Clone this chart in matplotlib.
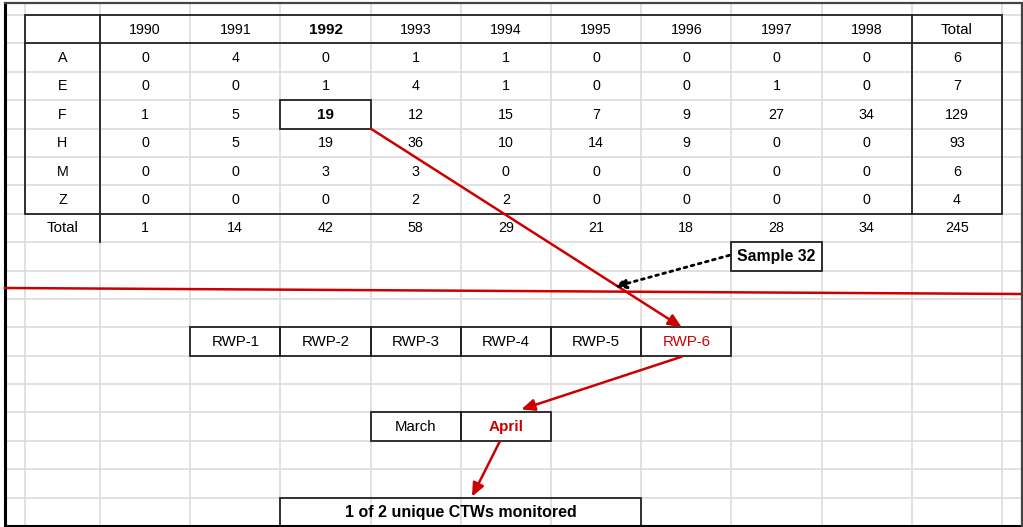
import numpy as np
import matplotlib.pyplot as plt
from matplotlib.patches import Rectangle

plt.rcParams['font.family'] = ['Liberation Sans', 'DejaVu Sans']

# table contents
years = ['1990', '1991', '1992', '1993', '1994', '1995', '1996', '1997', '1998']
groups = ['A', 'E', 'F', 'H', 'M', 'Z']
counts = np.array([
    [0, 4, 0, 1, 1, 0, 0, 0, 0],
    [0, 0, 1, 4, 1, 0, 0, 1, 0],
    [1, 5, 19, 12, 15, 7, 9, 27, 34],
    [0, 5, 19, 36, 10, 14, 9, 0, 0],
    [0, 0, 3, 3, 0, 0, 0, 0, 0],
    [0, 0, 0, 2, 2, 0, 0, 0, 0],
])
rwp_labels = ['RWP-1', 'RWP-2', 'RWP-3', 'RWP-4', 'RWP-5', 'RWP-6']
months = ['March', 'April']
sample_label = 'Sample 32'
final_label = '1 of 2 unique CTWs monitored'

RED = '#cc0000'
GRID = '#dcdcdc'
INK = '#222222'

# spreadsheet grid (pixels)
x_edges = np.r_[5, 25, np.linspace(100, 1002, 11), 1022]
y_edges = np.r_[3, np.linspace(15, 526, 19)]

fig = plt.figure(figsize=(10.23, 5.27), dpi=100)
ax = fig.add_axes([0, 0, 1, 1])
ax.set_xlim(0, 1023)
ax.set_ylim(527, 0)
ax.axis('off')


def cell(c, r, c2=None):
    c2 = c if c2 is None else c2
    return x_edges[c], y_edges[r], x_edges[c2 + 1], y_edges[r + 1]


def center(c, r, c2=None):
    x0, y0, x1, y1 = cell(c, r, c2)
    return (x0 + x1) / 2, (y0 + y1) / 2


def box(c, r, c2=None, lw=1.3):
    x0, y0, x1, y1 = cell(c, r, c2)
    ax.add_patch(Rectangle((x0, y0), x1 - x0, y1 - y0, fill=False,
                           ec=INK, lw=lw, zorder=3))


def put(c, r, s, c2=None, size=10.3, **kw):
    x, y = center(c, r, c2)
    ax.text(x, y + 0.5, s, ha='center', va='center', fontsize=size,
            zorder=4, **kw)


# light gridlines
for x in x_edges[1:-1]:
    ax.plot([x, x], [y_edges[0], y_edges[-1]], color=GRID, lw=1.2, zorder=1)
for y in y_edges[1:-1]:
    ax.plot([x_edges[0], x_edges[-1]], [y, y], color=GRID, lw=1.2, zorder=1)

# outer frame
ax.plot([x_edges[0], x_edges[0], x_edges[-1]], [y_edges[0], y_edges[-1], y_edges[-1]],
        color='black', lw=2.2, zorder=5, solid_joinstyle='miter')
ax.plot([x_edges[0], x_edges[-1], x_edges[-1]], [y_edges[0], y_edges[0], y_edges[-1]],
        color='#444444', lw=1.6, zorder=5, solid_joinstyle='miter')

# table borders
top, bot = y_edges[1], y_edges[8]
ax.add_patch(Rectangle((x_edges[1], top), x_edges[12] - x_edges[1], bot - top,
                       fill=False, ec=INK, lw=1.3, zorder=3))
ax.plot([x_edges[2]] * 2, [top, y_edges[9]], color=INK, lw=1.3, zorder=3)
ax.plot([x_edges[11]] * 2, [top, bot], color=INK, lw=1.3, zorder=3)
ax.plot([x_edges[1], x_edges[12]], [y_edges[2]] * 2, color=INK, lw=1.3, zorder=3)

# header
for i, yr in enumerate(years):
    if yr == '1992':
        put(2 + i, 1, yr, size=11, fontweight='bold')
    else:
        put(2 + i, 1, yr)
put(11, 1, 'Total', size=10.8)

# body
for r, g in enumerate(groups):
    put(1, 2 + r, g)
    for i, v in enumerate(counts[r]):
        if g == 'F' and years[i] == '1992':
            put(2 + i, 2 + r, str(v), size=11, fontweight='bold')
        else:
            put(2 + i, 2 + r, str(v))
    put(11, 2 + r, str(counts[r].sum()))

put(1, 8, 'Total', size=10.8)
for i, v in enumerate(counts.sum(axis=0)):
    put(2 + i, 8, str(v))
put(11, 8, str(counts.sum()))

# highlighted cell F / 1992
box(2 + years.index('1992'), 2 + groups.index('F'))

# sample box
box(9, 9)
put(9, 9, sample_label, size=11.3, fontweight='bold')

# RWP row
for i, lab in enumerate(rwp_labels):
    box(3 + i, 12)
    last = i == len(rwp_labels) - 1
    put(3 + i, 12, lab, size=10.8, color=RED if last else 'black')

# months
for i, m in enumerate(months):
    box(5 + i, 15)
    if m == 'April':
        put(5 + i, 15, m, size=11, color=RED, fontweight='bold')
    else:
        put(5 + i, 15, m, size=10.8)

# result box
box(4, 18, 7)
put(4, 18, final_label, c2=7, size=11.5, fontweight='bold')

# red cut line
ax.plot([x_edges[0], x_edges[-1] - 2], [288, 294], color=RED, lw=1.8, zorder=6)

# arrows
aprops = dict(arrowstyle='-|>,head_length=0.8,head_width=0.35', color=RED, lw=1.8,
              shrinkA=0, shrinkB=0)
x0, y0, x1, y1 = cell(4, 4)
r0, ry0, r1, ry1 = cell(8, 12)
ax.annotate('', xy=(r0 + 0.45 * (r1 - r0), ry0), xytext=(x1, y1),
            arrowprops=aprops, zorder=7)
a0, ay0, a1, ay1 = cell(6, 15)
ax.annotate('', xy=(a0 + 0.67 * (a1 - a0), ay0 - 3), xytext=(r0 + 0.45 * (r1 - r0), ry1 + 1),
            arrowprops=aprops, zorder=7)
f0, fy0, f1, fy1 = cell(4, 18, 7)
ax.annotate('', xy=(472, fy0 - 1), xytext=(a0 + 0.43 * (a1 - a0), ay1 + 1),
            arrowprops=aprops, zorder=7)

s0, sy0, s1, sy1 = cell(9, 9)
ax.annotate('', xy=(614, 287), xytext=(s0 - 2, (sy0 + sy1) / 2 - 1),
            arrowprops=dict(arrowstyle='-|>,head_length=0.7,head_width=0.3',
                            color='black', lw=2, ls=':', shrinkA=0, shrinkB=0),
            zorder=7)

fig.savefig('out.png', dpi=100)
